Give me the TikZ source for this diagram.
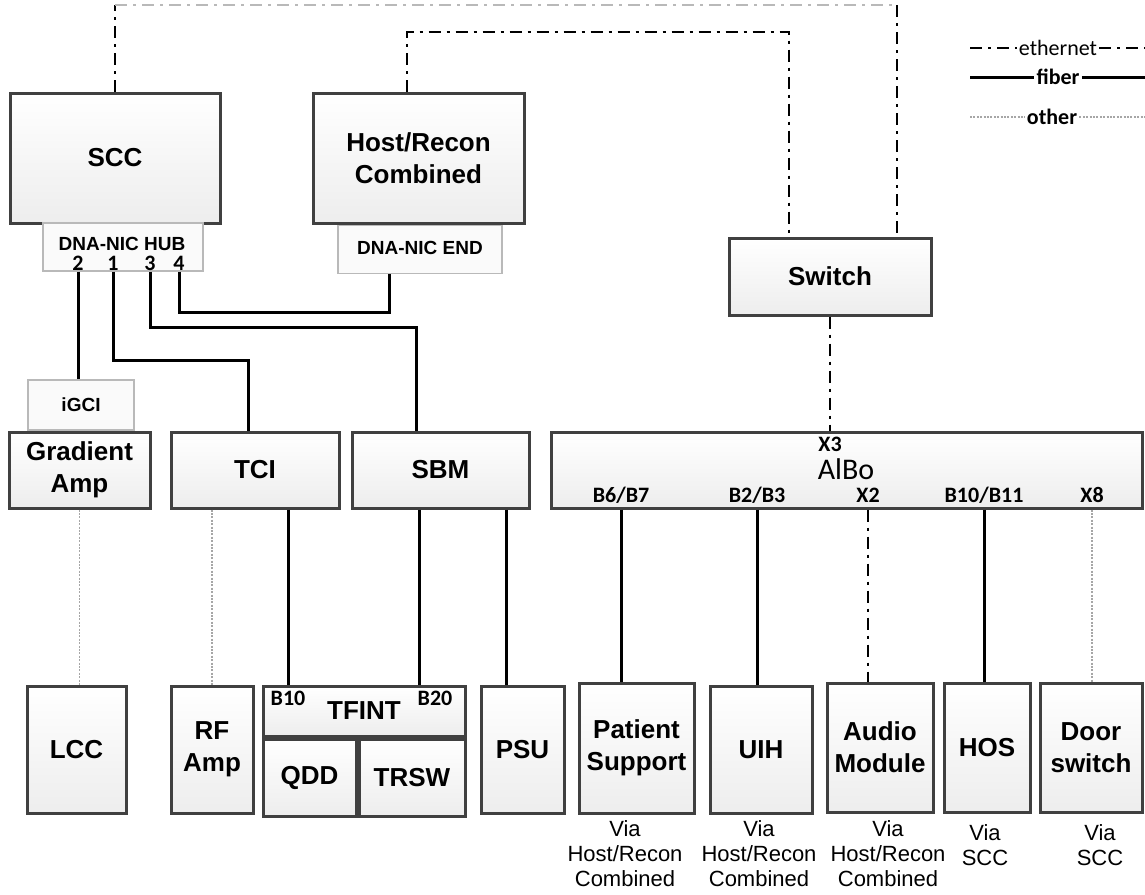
\documentclass[tikz,border=0pt]{standalone}
\usepackage{fontspec}
\setmainfont{Liberation Sans}
\newfontfamily\calfont{Carlito}
\usetikzlibrary{positioning,calc}

\tikzset{
  unitbox/.style={draw=black!75, line width=1.5pt, top color=white, bottom color=gray!14, inner sep=1pt, align=center, font=\fontsize{13}{16}\selectfont\bfseries},
  subbox/.style={draw=gray!55, line width=0.6pt, fill=gray!4, inner sep=0pt, font=\fontsize{9.5}{11}\selectfont\bfseries},
  portlbl/.style={font=\calfont\fontsize{11}{12}\selectfont\bfseries, inner sep=0pt},
  smalllbl/.style={font=\fontsize{9.5}{11}\selectfont\bfseries, inner sep=0pt},
  vianote/.style={font=\fontsize{11}{12.5}\selectfont, align=center, inner sep=0pt},
  ethline/.style={line width=1.2pt, dash pattern=on 6pt off 3pt on 1.5pt off 3pt},
  fiberline/.style={line width=1.5pt},
  otherline/.style={line width=0.6pt, draw=gray!70, dash pattern=on 1pt off 0.7pt},
  legtxt/.style={font=\calfont\fontsize{11}{12}\selectfont, inner sep=1pt}
}

\begin{document}
\begin{tikzpicture}[x=0.5pt, y=-0.5pt]
  \useasboundingbox (0,0) rectangle (1145,894);

  \node[unitbox, minimum width=105pt, minimum height=65pt] (scc) at (115,158) {SCC};
  \node[subbox, minimum width=80pt, minimum height=24pt] (hub) at (123,247) {};
  \node[smalllbl] (hubtxt) at (122,244) {DNA-NIC HUB};
  \node[portlbl] (p2) at (78,263) {2};
  \node[portlbl] (p1) at (113,263) {1};
  \node[portlbl] (p3) at (150,263) {3};
  \node[portlbl] (p4) at (179,263) {4};

  \node[unitbox, minimum width=105.5pt, minimum height=65pt] (host) at (418.5,158) {Host/Recon\\Combined};
  \node[subbox, minimum width=82pt, minimum height=24pt, below=0pt of host, xshift=0.75pt] (nicend) {\raisebox{1pt}{DNA-NIC END}};

  \node[unitbox, minimum width=101pt, minimum height=38.5pt] (sw) at (830,276.5) {Switch};

  \node[unitbox, minimum width=70.5pt, minimum height=38pt] (grad) at (79.5,470) {Gradient\\Amp};
  \node[subbox, minimum width=53pt, minimum height=25pt, above=0pt of grad, xshift=0.75pt] (igci) {\raisebox{-2pt}{iGCI}};
  \node[unitbox, minimum width=84pt, minimum height=38pt] (tci) at (255,470) {TCI};
  \node[unitbox, minimum width=88.5pt, minimum height=38pt] (sbm) at (440.5,470) {SBM};
  \node[unitbox, minimum width=295.5pt, minimum height=38pt] (albo) at (846.5,470) {};
  \node[portlbl] (x3) at (830,444) {X3};
  \node[font=\calfont\fontsize{15}{16}\selectfont, inner sep=0pt] (albotxt) at (846,469) {AlBo};
  \node[portlbl] (b67) at (621,495) {B6/B7};
  \node[portlbl] (b23) at (757,495) {B2/B3};
  \node[portlbl] (x2) at (868,495) {X2};
  \node[portlbl] (b1011) at (984,495) {B10/B11};
  \node[portlbl] (x8) at (1092,495) {X8};

  \node[unitbox, minimum width=49.5pt, minimum height=63.5pt] (lcc) at (76.5,749.5) {LCC};
  \node[unitbox, minimum width=41pt, minimum height=63.5pt] (rf) at (212,749.5) {RF\\Amp};
  \node[unitbox, minimum width=101pt, minimum height=25pt] (tfint) at (364,711) {\raisebox{-3pt}{TFINT}};
  \node[portlbl] (b10) at (288,698) {B10};
  \node[portlbl] (b20) at (435,698) {B20};
  \node[unitbox, minimum width=46.5pt, minimum height=38.5pt, anchor=north west] (qdd) at (tfint.south west) {QDD};
  \node[unitbox, minimum width=53pt, minimum height=38.5pt, anchor=north east] (trsw) at (tfint.south east) {TRSW};
  \node[unitbox, minimum width=41.5pt, minimum height=63.5pt] (psu) at (522.5,749.5) {PSU};
  \node[unitbox, minimum width=57.5pt, minimum height=65pt] (ps) at (636.5,748) {Patient\\Support};
  \node[unitbox, minimum width=51pt, minimum height=63.5pt] (uih) at (761,749.5) {UIH};
  \node[unitbox, minimum width=53pt, minimum height=64.5pt] (audio) at (880,747.5) {Audio\\Module};
  \node[unitbox, minimum width=43pt, minimum height=64.5pt] (hos) at (987,748) {HOS};
  \node[unitbox, minimum width=51pt, minimum height=64.5pt] (door) at (1091,748) {Door\\switch};

  \node[vianote] (viaps) at (625,854) {Via\\Host/Recon\\Combined};
  \node[vianote] (viauih) at (759,854) {Via\\Host/Recon\\Combined};
  \node[vianote] (viaaudio) at (888,854) {Via\\Host/Recon\\Combined};
  \node[vianote] (viahos) at (985,845) {Via\\SCC};
  \node[vianote] (viadoor) at (1100,845) {Via\\SCC};

  \node[legtxt] (legeth) at (1058,48) {ethernet};
  \node[legtxt, font=\calfont\fontsize{11}{12}\selectfont\bfseries] (legfib) at (1058,77) {fiber};
  \node[legtxt, font=\calfont\fontsize{11}{12}\selectfont\bfseries] (legoth) at (1052,117) {other};
  \coordinate (legL) at (970,0);
  \coordinate (legR) at (1145,0);
  \draw[ethline] (legL |- legeth) -- (legeth.west);
  \draw[ethline] (legeth.east) -- (legR |- legeth);
  \draw[fiberline] (legL |- legfib) -- (legfib.west);
  \draw[fiberline] (legfib.east) -- (legR |- legfib);
  \draw[otherline] (legL |- legoth) -- (legoth.west);
  \draw[otherline] (legoth.east) -- (legR |- legoth);

  \coordinate (ethL) at (115,5);
  \coordinate (ethR) at (897,5);
  \coordinate (hostE) at (407,32);
  \coordinate (swE) at (789,32);
  \draw[ethline] (scc.north) -- (ethL);
  \draw[ethline, draw=gray!55] (ethL) -- (ethR);
  \draw[ethline] (ethR) -- (ethR |- sw.north);
  \draw[ethline] (hostE |- host.north) -- (hostE) -- (swE) -- (swE |- sw.north);
  \draw[ethline] (sw.south) -- (sw.south |- albo.north);
  \draw[ethline] (x2 |- albo.south) -- (x2 |- audio.north);

  \coordinate (k1) at (248,360);
  \coordinate (k3) at (416,327);
  \coordinate (k4) at (389,312);
  \coordinate (k20) at (419,0);
  \coordinate (kpsu) at (506,0);
  \draw[fiberline] (p2 |- hub.south) -- (p2 |- igci.north);
  \draw[fiberline] (p1 |- hub.south) |- (k1) -- (k1 |- tci.north);
  \draw[fiberline] (p3 |- hub.south) |- (k3) -- (k3 |- sbm.north);
  \draw[fiberline] (p4 |- hub.south) |- (k4) -- (k4 |- nicend.south);
  \draw[fiberline] (b10 |- tci.south) -- (b10 |- tfint.north);
  \draw[fiberline] (k20 |- sbm.south) -- (k20 |- tfint.north);
  \draw[fiberline] (kpsu |- sbm.south) -- (kpsu |- psu.north);
  \draw[fiberline] (b67 |- albo.south) -- (b67 |- ps.north);
  \draw[fiberline] (b23 |- albo.south) -- (b23 |- uih.north);
  \draw[fiberline] (b1011 |- albo.south) -- (b1011 |- hos.north);

  \draw[otherline] (grad.south) -- (grad.south |- lcc.north);
  \draw[otherline] (rf.north |- tci.south) -- (rf.north);
  \draw[otherline] (x8 |- albo.south) -- (x8 |- door.north);
\end{tikzpicture}
\end{document}
